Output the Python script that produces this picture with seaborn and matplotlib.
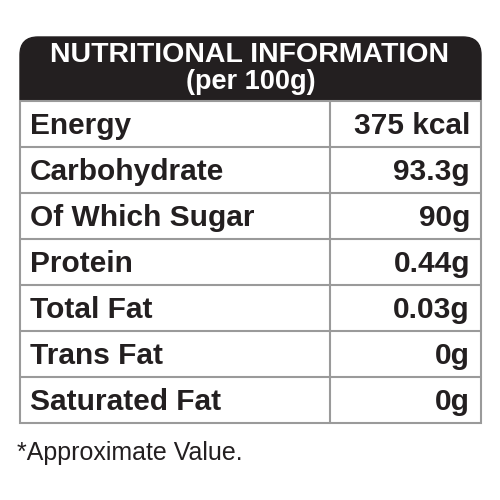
import matplotlib.pyplot as plt
import seaborn as sns
from matplotlib.patches import FancyBboxPatch, Rectangle

sns.set_theme(style="white")
plt.rcParams['font.family'] = ['Liberation Sans', 'DejaVu Sans']

# Table content
title = "NUTRITIONAL INFORMATION"
subtitle = "(per 100g)"
nutrients = ["Energy", "Carbohydrate", "Of Which Sugar", "Protein",
             "Total Fat", "Trans Fat", "Saturated Fat"]
amounts = ["375 kcal", "93.3g", "90g", "0.44g", "0.03g", "0g", "0g"]
footnote = "*Approximate Value."

fig = plt.figure(figsize=(5, 5), dpi=100)
ax = fig.add_axes([0, 0, 1, 1])
ax.set_xlim(0, 500)
ax.set_ylim(500, 0)
ax.axis("off")

left, right, split = 20, 481, 330
top_head, top_rows, row_h = 37, 101, 46

# dark header with rounded top
ax.add_patch(FancyBboxPatch((left, top_head), right - left, 80,
                            boxstyle="round,pad=0,rounding_size=18",
                            fc="#231f20", ec="#231f20", zorder=1))
ax.add_patch(Rectangle((left, top_rows), right - left, 30, fc="white", ec="none", zorder=2))
ax.text(250, 55, title, color="white", fontsize=20.5, fontweight="bold",
        ha="center", va="center", zorder=3)
ax.text(251, 82, subtitle, color="white", fontsize=19.5, fontweight="bold",
        ha="center", va="center", zorder=3)

bottom = top_rows + row_h * len(nutrients)
lc = "#9a9a9a"
ax.add_patch(Rectangle((left, top_rows), right - left, bottom - top_rows,
                       fc="none", ec=lc, lw=1.5, zorder=4))
ax.plot([split, split], [top_rows, bottom], color=lc, lw=1.5, zorder=4)
for i, (n, a) in enumerate(zip(nutrients, amounts)):
    y = top_rows + row_h * i
    if i:
        ax.plot([left, right], [y, y], color=lc, lw=1.5, zorder=4)
    ax.text(30, y + row_h / 2 + 2, n, fontsize=21.5, fontweight="bold",
            ha="left", va="center", color="#231f20", zorder=5)
    ax.text(470, y + row_h / 2 + 2, a, fontsize=21.5, fontweight="bold",
            ha="right", va="center", color="#231f20", zorder=5)

ax.text(17, 453, footnote, fontsize=18, ha="left", va="center", color="#231f20")

fig.savefig("out.png", dpi=100, facecolor="white")
